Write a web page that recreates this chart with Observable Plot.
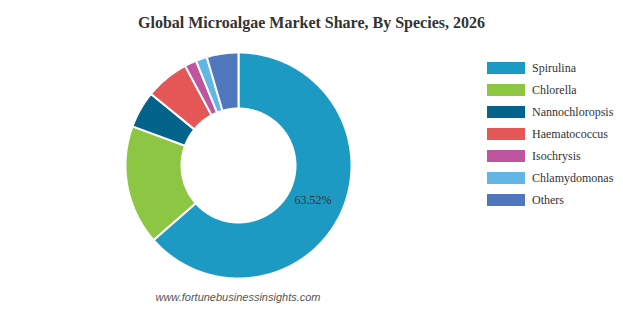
<!DOCTYPE html>
<html>
<head>
<meta charset="utf-8">
<script src="https://cdn.jsdelivr.net/npm/d3@7"></script>
<script src="https://cdn.jsdelivr.net/npm/@observablehq/plot@0.6"></script>
<style>
  body { margin: 0; background: #fff; }
  #wrap { position: relative; width: 623px; height: 310px; overflow: hidden; }
  #title { position: absolute; left: 0; width: 623px; top: 14px; text-align: center;
    font-family: "Liberation Serif", "Times New Roman", serif; font-weight: bold; font-size: 16px; color: #333; }
  #legend { position: absolute; left: 487px; top: 57px; font-family: "Liberation Serif", "Times New Roman", serif; font-size: 12px; color: #333; }
  .item { display: flex; align-items: center; height: 22px; }
  .sw { width: 38px; height: 12px; margin-right: 7px; }
  #wm { position: absolute; left: 0; width: 476px; top: 291px; text-align: center;
    font-family: "Liberation Sans", Arial, sans-serif; font-style: italic; font-size: 11px; color: #555; }
  #chart { position: absolute; left: 0; top: 0; }
</style>
</head>
<body>
<div id="wrap">
  <div id="chart"></div>
  <div id="title">Global Microalgae Market Share, By Species, 2026</div>
  <div id="legend"></div>
  <div id="wm">www.fortunebusinessinsights.com</div>
</div>
<script>
const species = ["Spirulina", "Chlorella", "Nannochloropsis", "Haematococcus", "Isochrysis", "Chlamydomonas", "Others"];
const shares = [63.52, 17.1, 5.3, 6.25, 1.7, 1.6, 4.53];
const colors = ["#1d9ac3", "#8dc642", "#03638a", "#e55656", "#bf55a0", "#62b6e5", "#5076bd"];
const labelText = ["63.52%"];

const W = 623, H = 310, cx = 238, cy = 165, R = 113, r0 = 57;
const total = d3.sum(shares);
const rInner = r0 / R;

// build polygon vertices for each slice (unit radius coordinates)
const pts = [];
const labels = [];
let acc = 0;
species.forEach((s, i) => {
  const a0 = acc / total * 2 * Math.PI;
  acc += shares[i];
  const a1 = acc / total * 2 * Math.PI;
  const n = Math.max(4, Math.ceil((a1 - a0) / 0.01));
  for (let k = 0; k <= n; k++) {
    const a = a0 + (a1 - a0) * k / n;
    pts.push({species: s, x: Math.sin(a), y: Math.cos(a)});
  }
  for (let k = n; k >= 0; k--) {
    const a = a0 + (a1 - a0) * k / n;
    pts.push({species: s, x: rInner * Math.sin(a), y: rInner * Math.cos(a)});
  }
  if (i < labelText.length) {
    const am = (a0 + a1) / 2, rm = (1 + rInner) / 2;
    labels.push({x: rm * Math.sin(am), y: rm * Math.cos(am), text: labelText[i]});
  }
});

const chart = Plot.plot({
  width: W, height: H,
  margin: 0,
  x: {domain: [-cx / R, (W - cx) / R], axis: null},
  y: {domain: [-(H - cy) / R, cy / R], axis: null},
  color: {domain: species, range: colors},
  marks: [
    Plot.line(pts, {x: "x", y: "y", z: "species", fill: "species", stroke: "#fff", strokeWidth: 2, curve: "linear-closed"}),
    Plot.text(labels, {x: "x", y: "y", text: "text", dx: -3, fill: "#333", fontSize: 12, fontFamily: "Liberation Serif, Times New Roman, serif"})
  ]
});
document.getElementById("chart").appendChild(chart);

const leg = document.getElementById("legend");
species.forEach((s, i) => {
  const d = document.createElement("div");
  d.className = "item";
  d.innerHTML = `<div class="sw" style="background:${colors[i]}"></div><span>${s}</span>`;
  leg.appendChild(d);
});
</script>
</body>
</html>
